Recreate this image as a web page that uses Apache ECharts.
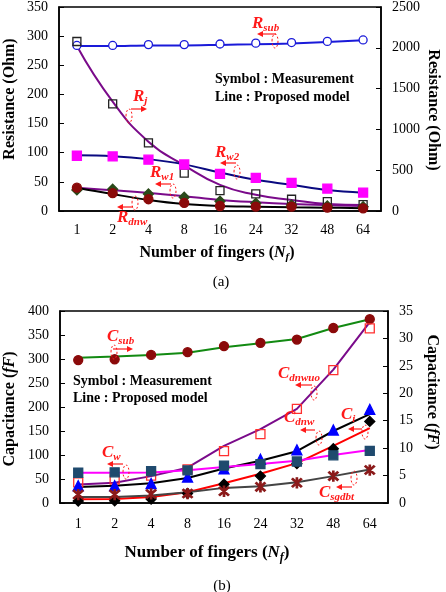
<!DOCTYPE html>
<html>
<head>
<meta charset="utf-8">
<script src="https://cdn.jsdelivr.net/npm/echarts@6/dist/echarts.min.js"></script>
<style>
html, body { margin: 0; padding: 0; background: #fff; }
#chart { width: 446px; height: 592px; }
</style>
</head>
<body>
<div id="chart"></div>
<script>
// x categories (number of fingers)
const fingers = ['1', '2', '4', '8', '16', '24', '32', '48', '64'];

// (a) resistance, Ohm. symbols = measurement, lines = model
const rSubMeas = [284, 284, 285.5, 285.5, 286.5, 288, 289, 291, 293.5];
const rSubModel = [283, 283, 284, 284, 285, 286, 287.5, 290, 293];
const rjMeas = [2077, 1314, 834, 464, 250, 209, 144, 114, 78];      // right axis
const rjModel = [2021, 1340, 850, 560, 320, 200, 136, 86, 72];      // right axis
const rw2Meas = [94.8, 93.6, 88, 79.8, 63.8, 56.9, 48.3, 38.5, 31.6];
const rw2Model = [95.5, 94, 89, 80, 66, 53.5, 45, 36, 31.5];
const rw1Meas = [36.2, 37.4, 29.3, 23.6, 16.7, 13.2, 10.3, 8.6, 7.4];
const rw1Model = [40, 35.6, 31, 25.3, 19, 15, 12, 10, 8.6];
const rdnwMeas = [40, 30.5, 20.2, 13.8, 8.6, 7.5, 7.5, 5.7, 4.6];
const rdnwModel = [40, 29, 19, 12, 8.6, 7.5, 6.5, 5.7, 4.6];

// (b) capacitance, fF
const cSubMeas = [26.05, 26.2, 27.0, 27.5, 28.6, 29.2, 29.8, 31.9, 33.5];   // right axis
const cSubModel = [26.5, 26.7, 27.0, 27.4, 28.4, 29.1, 29.9, 31.9, 33.5];   // right axis
const cDnwuoMeas = [43, 49, 57, 70, 108, 143.6, 196, 277, 364];
const cDnwuoModel = [38.5, 42, 56, 73.5, 119, 154, 196, 278, 377];
const ciMeas = [36, 36, 40.5, 54, 71, 91, 110.6, 152, 195];
const ciModel = [33.5, 36, 41, 52, 72, 88, 108, 150, 185];
const cDnwMeas = [4, 4.5, 8.4, 20, 39, 56, 82, 113, 170];
const cDnwModel = [8, 8.4, 12.6, 22.3, 41, 61, 83, 119, 156];
const cwMeas = [63, 64, 66.5, 68, 78, 81, 86.5, 99.4, 108.5];
const cwModel = [63, 63, 63.5, 68, 75, 81, 88, 100, 110.5];
const cSgdbtMeas = [17.5, 17.5, 18.9, 19.6, 24.5, 33.6, 42, 56, 68.6];
const cSgdbtModel = [12.6, 12.6, 15.4, 22.3, 31.5, 35, 43.3, 56, 70];

const SERIF = 'Liberation Serif';
const RED = '#ff1a1a';
const ASTERISK = 'path://M4.4,0L5.6,0L5.6,10L4.4,10ZM0.6,1.5L1.5,0.6L9.4,8.5L8.5,9.4ZM8.5,0.6L9.4,1.5L1.5,9.4L0.6,8.5Z';

const chart = echarts.init(document.getElementById('chart'));

function xAxis(gi, margin) {
    return {
        type: 'category', gridIndex: gi, data: fingers, boundaryGap: true,
        axisLine: { lineStyle: { color: '#000', width: 1.5 } },
        axisTick: { inside: true, length: 5, lineStyle: { color: '#000' } },
        axisLabel: { color: '#000', fontFamily: SERIF, fontSize: 14, margin: margin },
        splitLine: { show: false }
    };
}

function yAxis(gi, pos, max, step) {
    return {
        type: 'value', gridIndex: gi, position: pos, min: 0, max: max, interval: step,
        axisLine: { show: true, lineStyle: { color: '#000', width: 1.5 } },
        axisTick: { show: true, inside: true, length: 5, lineStyle: { color: '#000' } },
        axisLabel: { color: '#000', fontFamily: SERIF, fontSize: 14, margin: 11, formatter: v => String(v) },
        splitLine: { show: false }
    };
}

// model line
function model(data, color, xi, yi, smooth, width) {
    return {
        type: 'line', xAxisIndex: xi, yAxisIndex: yi, data: data,
        showSymbol: false, smooth: smooth, z: 2,
        lineStyle: { color: color, width: width || 2 }
    };
}

// measured symbols
function meas(data, symbol, size, fill, border, xi, yi) {
    return {
        type: 'scatter', xAxisIndex: xi, yAxisIndex: yi, data: data,
        symbol: symbol, symbolSize: size, z: 3,
        itemStyle: { color: fill, borderColor: border, borderWidth: 1.3, opacity: 1 }
    };
}

// red label with subscript
function note(x, y, main, sub) {
    return {
        type: 'text', x: x, y: y, z: 100,
        style: {
            text: '{m|' + main + '}{s|' + sub + '}',
            verticalAlign: 'middle',
            rich: {
                m: { fontFamily: SERIF, fontSize: 17, fontWeight: 'bold', fontStyle: 'italic', fill: RED, lineHeight: 20, verticalAlign: 'middle' },
                s: { fontFamily: SERIF, fontSize: 11, fontWeight: 'bold', fontStyle: 'italic', fill: RED, lineHeight: 11, verticalAlign: 'bottom' }
            }
        }
    };
}

function arrow(x1, y, x2) {
    const d = x2 > x1 ? 1 : -1;
    return [
        { type: 'line', z: 100, shape: { x1: x1, y1: y, x2: x2 - d * 4, y2: y }, style: { stroke: RED, lineWidth: 1.2 } },
        { type: 'polygon', z: 100, shape: { points: [[x2, y], [x2 - d * 6, y - 3], [x2 - d * 6, y + 3]] }, style: { fill: RED } }
    ];
}

function loop(cx, cy) {
    return {
        type: 'ellipse', z: 100, shape: { cx: cx, cy: cy, rx: 3, ry: 7 },
        style: { fill: 'none', stroke: RED, lineWidth: 1, lineDash: [2, 2] }
    };
}

function plain(x, y, text, size, bold, rot) {
    return {
        type: 'text', x: x, y: y, rotation: rot || 0, z: 100,
        style: {
            text: text, fill: '#000', align: 'center', verticalAlign: 'middle',
            font: (bold ? 'bold ' : '') + size + 'px "' + SERIF + '"'
        }
    };
}

function richTitle(x, y, parts, size, rot) {
    return {
        type: 'text', x: x, y: y, rotation: rot || 0, z: 100,
        style: {
            text: parts, align: 'center', verticalAlign: 'middle',
            rich: {
                b: { fontFamily: SERIF, fontSize: size, fontWeight: 'bold', fill: '#000', lineHeight: size + 4, verticalAlign: 'middle' },
                i: { fontFamily: SERIF, fontSize: size, fontWeight: 'bold', fontStyle: 'italic', fill: '#000', lineHeight: size + 4, verticalAlign: 'middle' },
                s: { fontFamily: SERIF, fontSize: size - 5, fontWeight: 'bold', fontStyle: 'italic', fill: '#000', lineHeight: size - 5, verticalAlign: 'bottom' }
            }
        }
    };
}

const graphic = [
    // (a)
    plain(10, 99, 'Resistance (Ohm)', 16, true, Math.PI / 2),
    plain(433, 110, 'Resistance (Ohm)', 16, true, -Math.PI / 2),
    richTitle(217, 253, '{b|Number of fingers (}{i|N}{s|f}{b|)}', 16),
    plain(221, 282, '(a)', 15, false),
    { type: 'text', x: 215, y: 79, z: 100, style: { text: 'Symbol : Measurement', font: 'bold 14px "' + SERIF + '"', fill: '#000', verticalAlign: 'middle' } },
    { type: 'text', x: 215, y: 97, z: 100, style: { text: 'Line : Proposed model', font: 'bold 14px "' + SERIF + '"', fill: '#000', verticalAlign: 'middle' } },
    note(252, 24, 'R', 'sub'), ...arrow(276, 34, 257), loop(275, 41),
    note(133, 97, 'R', 'j'), ...arrow(131, 109, 147), loop(129, 116),
    note(215, 153, 'R', 'w2'), ...arrow(236, 163, 220), loop(237, 172),
    note(150, 173, 'R', 'w1'), ...arrow(171, 184, 155), loop(173, 191),
    note(117, 218, 'R', 'dnw'), ...arrow(133, 207, 117), loop(135, 203),
    // (b)
    richTitle(10, 409, '{b|Capacitance (}{i|fF}{b|)}', 16, Math.PI / 2),
    richTitle(432, 392, '{b|Capacitance (}{i|fF}{b|)}', 16, -Math.PI / 2),
    richTitle(207, 553, '{b|Number of fingers (}{i|N}{s|f}{b|)}', 17),
    plain(222, 586, '(b)', 15, false),
    { type: 'text', x: 73, y: 381, z: 100, style: { text: 'Symbol : Measurement', font: 'bold 14px "' + SERIF + '"', fill: '#000', verticalAlign: 'middle' } },
    { type: 'text', x: 73, y: 398, z: 100, style: { text: 'Line : Proposed model', font: 'bold 14px "' + SERIF + '"', fill: '#000', verticalAlign: 'middle' } },
    note(107, 337, 'C', 'sub'), ...arrow(113, 349, 133), loop(114, 352),
    note(278, 374, 'C', 'dnwuo'), ...arrow(312, 385, 295), loop(314, 393),
    note(284, 418, 'C', 'dnw'), ...arrow(315, 430, 300), loop(319, 438),
    note(341, 415, 'C', 'i'), ...arrow(362, 429, 348), loop(365, 432),
    note(102, 453, 'C', 'w'), ...arrow(123, 464, 107), loop(126, 472),
    note(319, 493, 'C', 'sgdbt'), ...arrow(352, 487, 336), loop(354, 478)
];

const option = {
    animation: false,
    backgroundColor: '#fff',
    grid: [
        { left: 59, right: 65, top: 7, height: 204, show: true, borderColor: '#000', borderWidth: 1.5, backgroundColor: 'transparent' },
        { left: 60, right: 58, top: 311, height: 192, show: true, borderColor: '#000', borderWidth: 1.5, backgroundColor: 'transparent' }
    ],
    xAxis: [xAxis(0, 12), xAxis(1, 14)],
    yAxis: [
        yAxis(0, 'left', 350, 50),
        yAxis(0, 'right', 2500, 500),
        yAxis(1, 'left', 400, 50),
        yAxis(1, 'right', 35, 5)
    ],
    series: [
        // (a) lines
        model(rSubModel, '#1a1ad9', 0, 0, 0.3),
        model(rjModel, '#7a0a8a', 0, 1, 0.5),
        model(rw2Model, '#0a0a80', 0, 0, 0.4),
        model(rw1Model, '#7a0a8a', 0, 0, 0.4),
        model(rdnwModel, '#000', 0, 0, 0.4),
        // (a) symbols
        meas(rSubMeas, 'circle', 8, '#fff', '#1a1ad9', 0, 0),
        meas(rjMeas, 'rect', 8, 'rgba(255,255,255,0)', '#222', 0, 1),
        meas(rw2Meas, 'rect', 9, '#ff00ff', '#ff00ff', 0, 0),
        meas(rw1Meas, 'diamond', 10, '#2a4a1a', '#2a4a1a', 0, 0),
        meas(rdnwMeas, 'circle', 9, '#8b0a0a', '#8b0a0a', 0, 0),
        // (b) lines
        model(cSubModel, '#128a12', 1, 3, false),
        model(cDnwuoModel, '#7a0a8a', 1, 2, false),
        model(ciModel, '#000', 1, 2, false),
        model(cDnwModel, '#ff0000', 1, 2, false),
        model(cwModel, '#ff00ff', 1, 2, false),
        model(cSgdbtModel, '#444', 1, 2, false),
        // (b) symbols
        meas(cSubMeas, 'circle', 9, '#8b0a0a', '#8b0a0a', 1, 3),
        meas(cDnwuoMeas, 'rect', 9, 'rgba(255,255,255,0)', '#ff3030', 1, 2),
        meas(ciMeas, 'triangle', 10, '#0000ff', '#0000ff', 1, 2),
        meas(cDnwMeas, 'diamond', 10, '#000', '#000', 1, 2),
        meas(cwMeas, 'rect', 9, '#1f4a6e', '#1f4a6e', 1, 2),
        meas(cSgdbtMeas, ASTERISK, 10, '#8b1a1a', '#8b1a1a', 1, 2)
    ],
    graphic: graphic
};

chart.setOption(option);
</script>
</body>
</html>
